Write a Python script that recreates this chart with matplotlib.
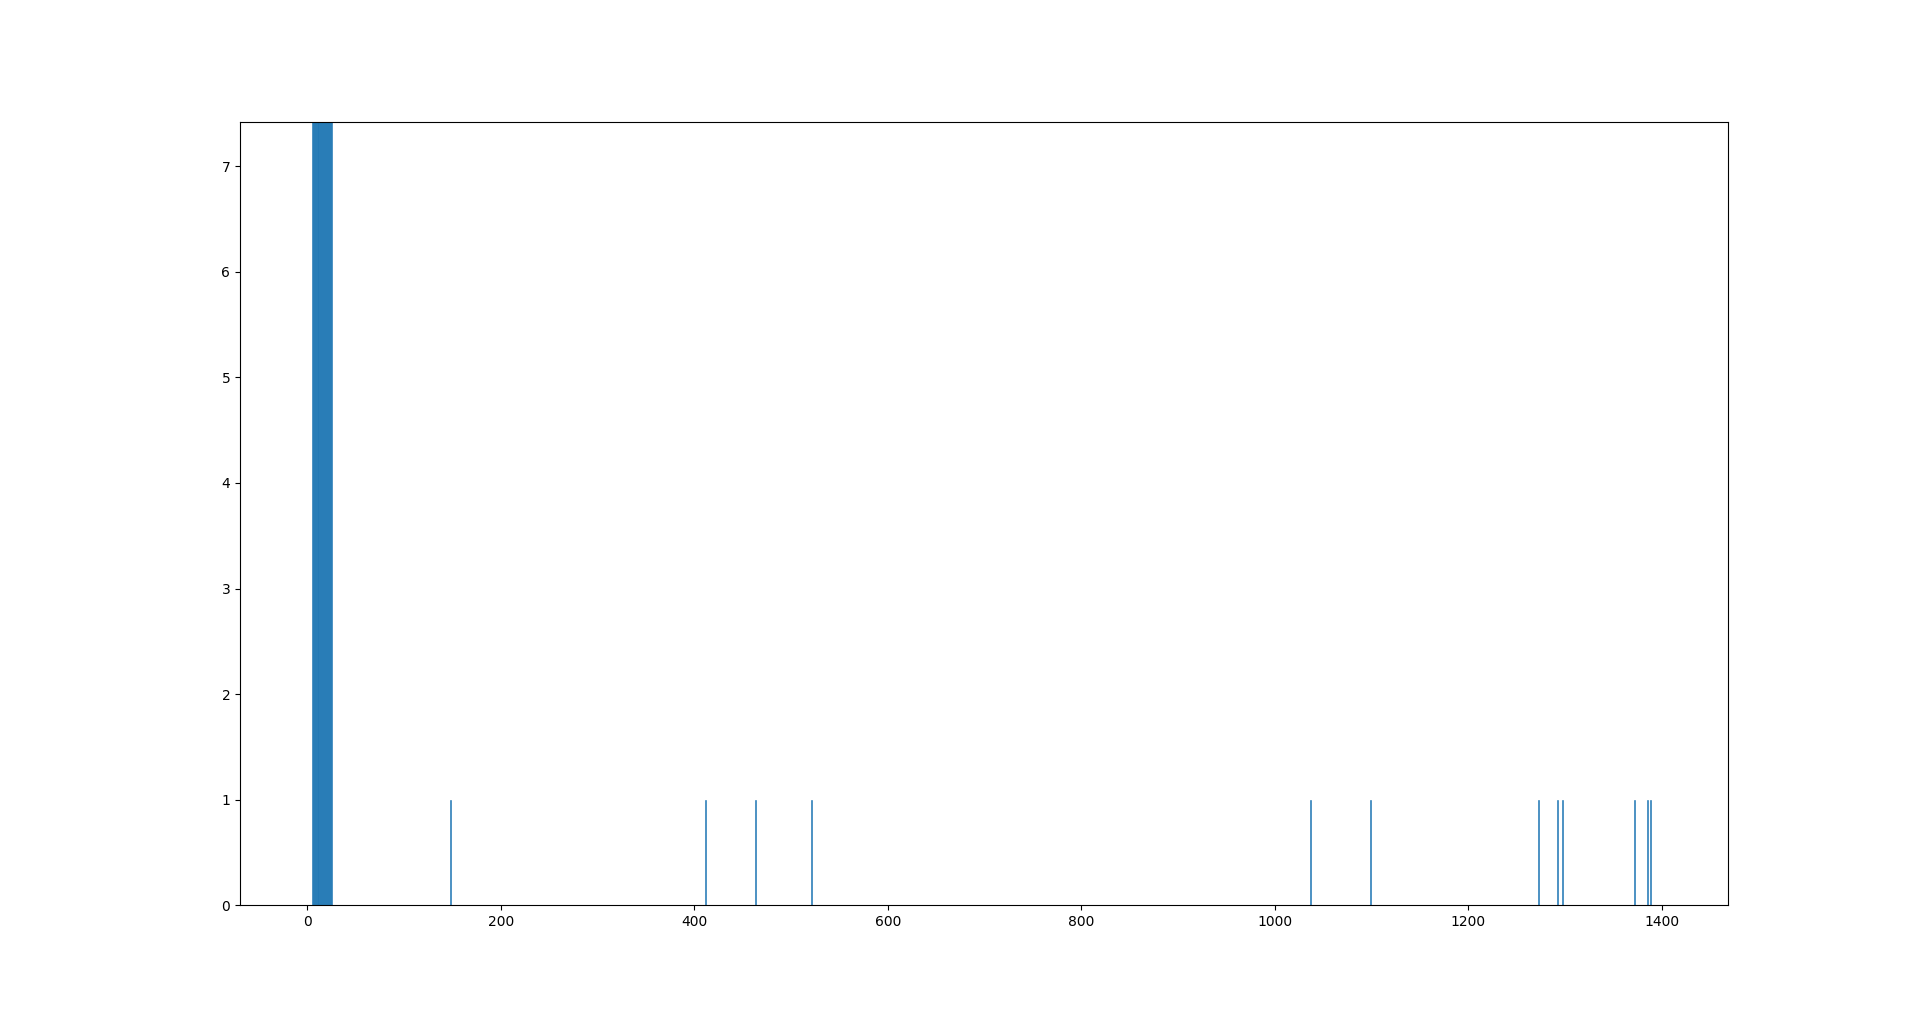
import numpy as np
import matplotlib
matplotlib.use('Agg')
import matplotlib.pyplot as plt

# Bloco alto no início (valores além do limite do eixo y)
bloco_x = list(range(5, 26))
bloco_h = [8.0] * len(bloco_x)

# Barras isoladas de altura 1
picos_x = [148, 411.7, 463, 521, 1037, 1099, 1272, 1292, 1297, 1372, 1385, 1388]
picos_h = [1] * len(picos_x)

fig, ax = plt.subplots()
fig.set_size_inches(19.2, 10.17)

ax.bar(bloco_x + picos_x, bloco_h + picos_h, width=1.0, color='#1f77b4',
       edgecolor='#1f77b4', linewidth=0.4)

ax.set_xlim(-69.6, 1468.2)
ax.set_ylim(0, 7.42)

fig.savefig('out.png', dpi=100)
